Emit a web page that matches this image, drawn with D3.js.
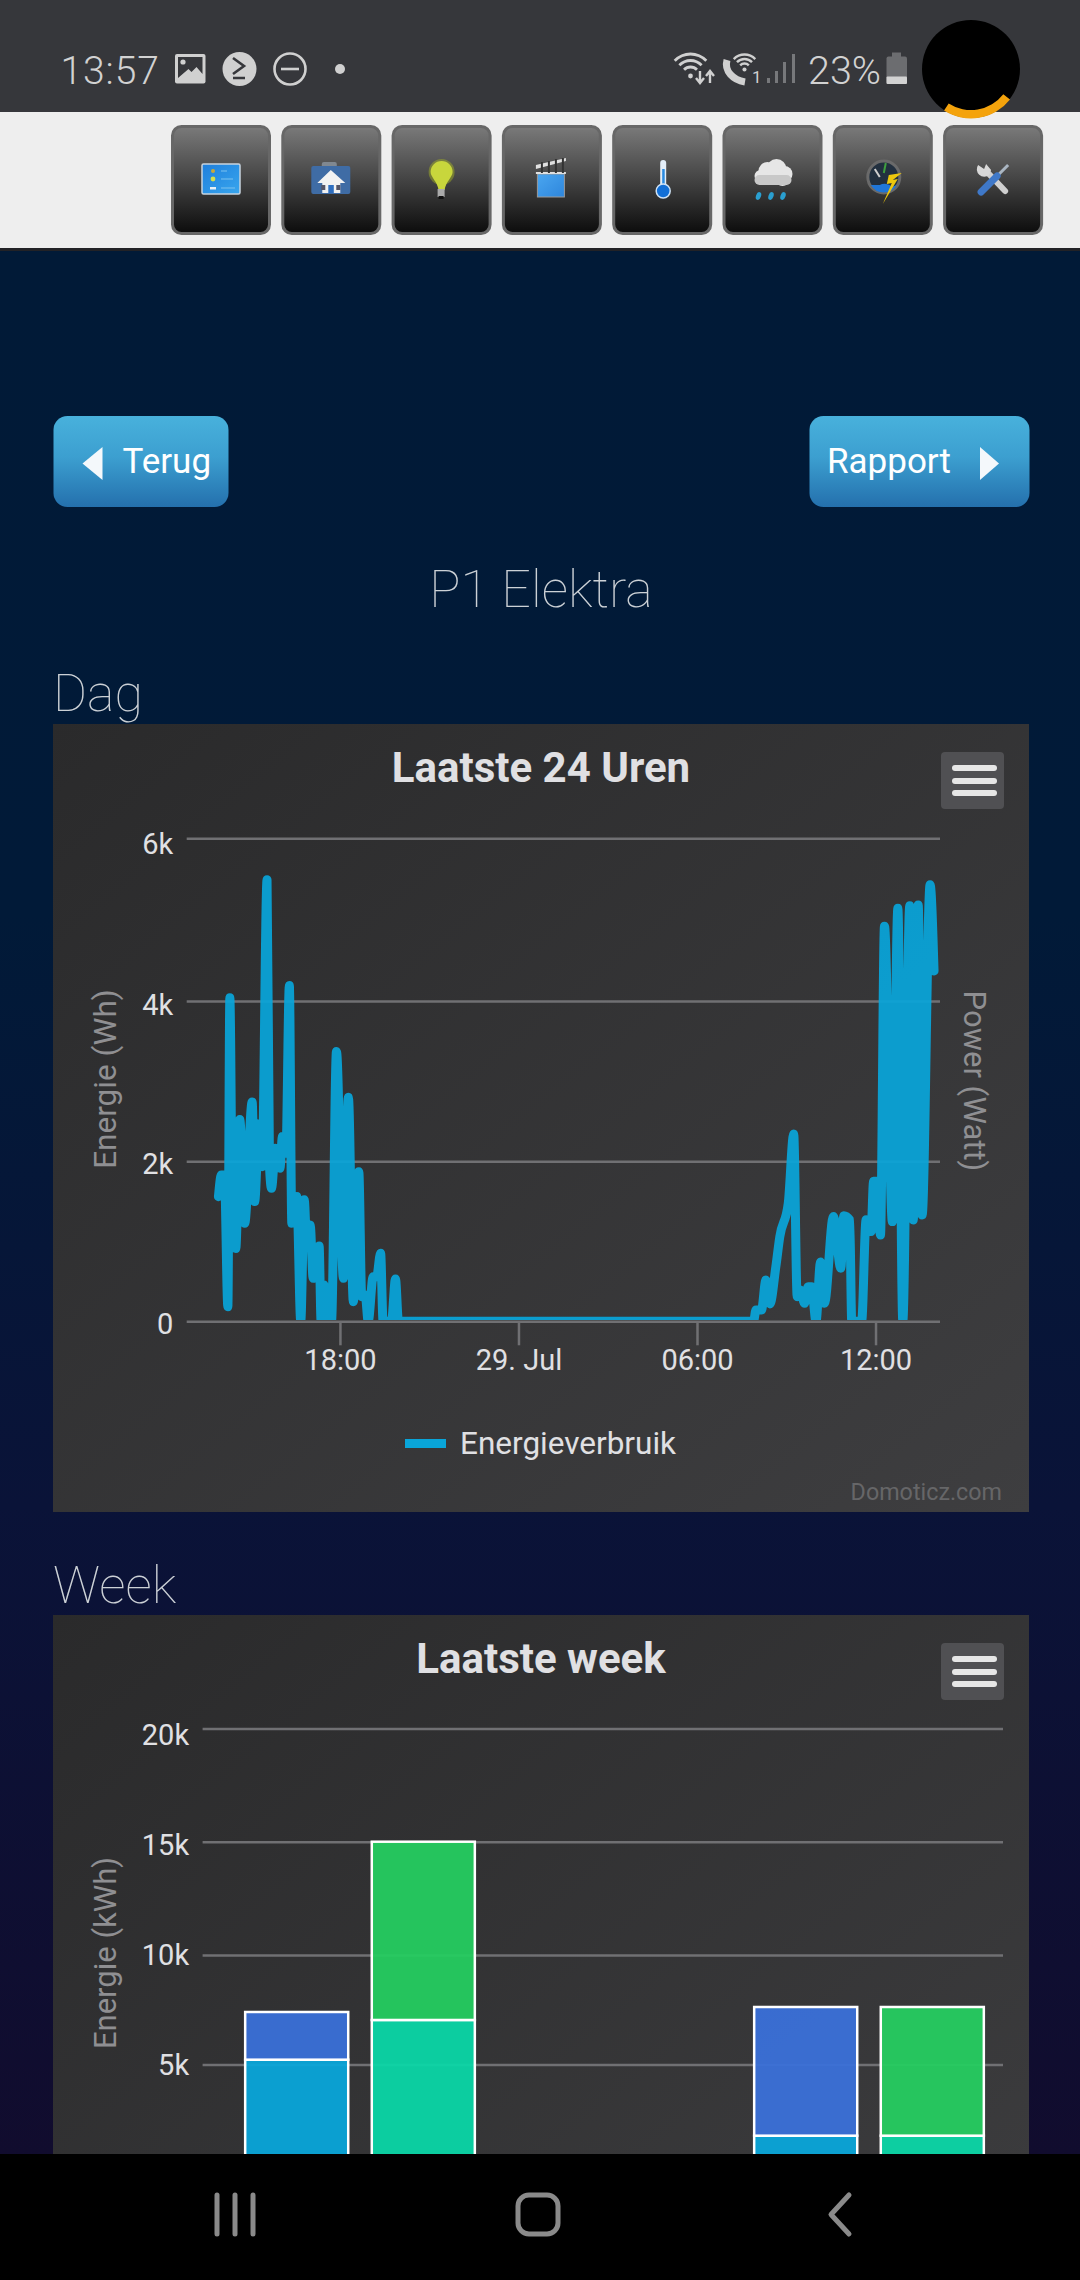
<!DOCTYPE html>
<html>
<head>
<meta charset="utf-8">
<script src="https://cdn.jsdelivr.net/npm/d3@7/dist/d3.min.js"></script>
<style>
  html, body { margin: 0; padding: 0; background: #000; }
  svg { display: block; }
  text { font-family: Roboto, sans-serif; }
</style>
</head>
<body>
<svg id="screen" width="1080" height="2280"></svg>
<script>
// Laatste 24 Uren (day hour:minute, Wh)
const dayTimes = [
  "28 13:55", "28 14:01", "28 14:07", "28 14:14", "28 14:18", "28 14:24", "28 14:30", "28 14:38",
  "28 14:48", "28 15:03", "28 15:08", "28 15:17", "28 15:23", "28 15:33", "28 15:38", "28 15:42",
  "28 15:50", "28 15:59", "28 16:04", "28 16:11", "28 16:18", "28 16:23", "28 16:33", "28 16:41",
  "28 16:48", "28 16:53", "28 17:00", "28 17:06", "28 17:18", "28 17:22", "28 17:28", "28 17:33",
  "28 17:43", "28 17:53", "28 18:07", "28 18:17", "28 18:27", "28 18:38", "28 18:44", "28 18:51",
  "28 18:57", "28 19:07", "28 19:14", "28 19:22", "28 19:27", "28 19:44", "28 19:52", "28 19:58",
  "29 07:54", "29 07:59", "29 08:10", "29 08:19", "29 08:27", "29 08:39", "29 08:47", "29 09:04",
  "29 09:15", "29 09:22", "29 09:28", "29 09:37", "29 09:44", "29 09:51", "29 10:00", "29 10:09",
  "29 10:17", "29 10:35", "29 10:50", "29 10:56", "29 11:08", "29 11:12", "29 11:32", "29 11:41",
  "29 11:51", "29 11:56", "29 12:02", "29 12:10", "29 12:18", "29 12:34", "29 12:45", "29 12:55",
  "29 13:09", "29 13:16", "29 13:26", "29 13:34", "29 13:50", "29 13:58"
];
const dayWatts = [
  1558, 1830, 1830, 183, 4040, 930, 910, 2520,
  1225, 2740, 1496, 2470, 1933, 5490, 1933, 1662,
  2162, 1912, 2308, 2100, 4190, 1225, 1560, 0,
  1520, 975, 1204, 537, 940, 0, 454, 0,
  0, 3370, 537, 2800, 245, 1870, 308, 329,
  0, 558, 558, 850, 0, 0, 530, 0,
  0, 142, 142, 517, 217, 683, 1058, 1475,
  2340, 308, 392, 225, 433, 433, 0, 740,
  225, 1310, 662, 1320, 1267, 0, 0, 1270,
  1121, 1750, 1750, 1079, 4920, 1246, 5140, 0,
  5170, 1267, 5180, 1329, 5430, 4370
];
const dayYTicks = [0, 2000, 4000, 6000];
const dayXTicks = ["28 18:00", "29 00:00", "29 06:00", "29 12:00"];
const dayXLabels = ["18:00", "29. Jul", "06:00", "12:00"];
const dayDomain = ["28 12:51", "29 14:10"];

// Laatste week, the two stacks per day (kWh)
const weekDays = ["d1", "d2", "d3"];
const weekStacks = ["verbruik", "levering"];
const usageLow = [5224, 0, 1829];
const usageHigh = [2176, 0, 5799];
const returnLow = [7035, 0, 1829];
const returnHigh = [7965, 0, 5799];
const weekYTicks = [0, 5000, 10000, 15000, 20000];

const svg = d3.select("#screen");
const defs = svg.append("defs");

function gradient(id, stops, x2, y2) {
  const g = defs.append("linearGradient").attr("id", id)
    .attr("x1", 0).attr("y1", 0).attr("x2", x2).attr("y2", y2);
  stops.forEach(s => g.append("stop").attr("offset", s[0]).attr("stop-color", s[1]));
}
gradient("pageBg", [[0, "#011a37"], [0.35, "#011a38"], [0.66, "#0a1338"], [1, "#110c2e"]], 0, 1);
gradient("panelBg", [[0, "#2a2a2b"], [1, "#3e3e40"]], 1, 1);
gradient("blueBtn", [[0, "#48b1dc"], [0.45, "#3c9fd0"], [1, "#2470ad"]], 0, 1);
gradient("toolBtn", [[0, "#7a7a7a"], [1, "#0c0c0c"]], 0, 1);
gradient("screenIcon", [[0, "#1f7fdc"], [1, "#38a6ee"]], 1, 1);
gradient("clapIcon", [[0, "#4aa6f0"], [1, "#2e86dc"]], 1, 1);

// page background
svg.append("rect").attr("width", 1080).attr("height", 2280).attr("fill", "#000");
svg.append("rect").attr("y", 248).attr("width", 1080).attr("height", 1906).attr("fill", "url(#pageBg)");

// --- status bar ---
const status = svg.append("g");
status.append("rect").attr("width", 1080).attr("height", 112).attr("fill", "#36373b");
status.append("text").attr("x", 60.5).attr("y", 83.5).attr("font-size", 39).attr("font-weight", 300)
  .attr("letter-spacing", 0.9).attr("fill", "#d2d2d2").text("13:57");
status.append("text").attr("x", 808).attr("y", 84).attr("font-size", 39.5).attr("font-weight", 300)
  .attr("fill", "#d2d2d2").text("23%");

// picture icon
status.append("rect").attr("x", 175).attr("y", 54).attr("width", 30.5).attr("height", 29.5).attr("rx", 2).attr("fill", "#d0d0d0");
status.append("path").attr("d", "M178 57h24.5v17l-6-7-5 5-3-3-10.500 9z").attr("fill", "#36373b");
status.append("circle").attr("cx", 183).attr("cy", 62).attr("r", 2.6).attr("fill", "#d0d0d0");
// S circle
status.append("circle").attr("cx", 239.5).attr("cy", 69).attr("r", 17).attr("fill", "#d0d0d0");
status.append("path").attr("d", "M233 58l11 8-11 8M233 78h12").attr("fill", "none").attr("stroke", "#36373b").attr("stroke-width", 2.6);
// do not disturb
status.append("circle").attr("cx", 290).attr("cy", 69).attr("r", 15.5).attr("fill", "none").attr("stroke", "#d0d0d0").attr("stroke-width", 2.6);
status.append("line").attr("x1", 281).attr("x2", 299).attr("y1", 69).attr("y2", 69).attr("stroke", "#d0d0d0").attr("stroke-width", 2.6);
status.append("circle").attr("cx", 340).attr("cy", 69).attr("r", 5).attr("fill", "#d0d0d0");

// wifi arcs, drawn as thin arc bands
function wifi(cx, cy, radii, w) {
  radii.forEach(r => {
    status.append("path").attr("transform", `translate(${cx},${cy})`)
      .attr("d", d3.arc()({ innerRadius: r - w / 2, outerRadius: r + w / 2, startAngle: -0.8, endAngle: 0.8 }))
      .attr("fill", "#d0d0d0");
  });
  status.append("circle").attr("cx", cx).attr("cy", cy).attr("r", w * 0.85).attr("fill", "#d0d0d0");
}
wifi(690.5, 76, [9, 15.500, 22], 2.8);
status.append("path").attr("d", "M700 71v11M696 78l4 5 4-5M710 83v-11M706 76l4-5 4 5")
  .attr("fill", "none").attr("stroke", "#d0d0d0").attr("stroke-width", 2.4);
wifi(744.5, 69.5, [6, 10.500, 15], 2.4);
status.append("path").attr("d", "M727 60c-3 11 6 20 18 22").attr("fill", "none").attr("stroke", "#d0d0d0").attr("stroke-width", 7);
status.append("text").attr("x", 752).attr("y", 83).attr("font-size", 17).attr("fill", "#d0d0d0").text("1");
// signal bars
[[767, 78], [775, 71], [783, 62], [792, 54]].forEach(b => {
  status.append("rect").attr("x", b[0]).attr("y", b[1]).attr("width", 3).attr("height", 83 - b[1]).attr("fill", "#77787b");
});
// battery
status.append("rect").attr("x", 892).attr("y", 52.500).attr("width", 9).attr("height", 6).attr("fill", "#6c6d70");
status.append("rect").attr("x", 886.500).attr("y", 56.500).attr("width", 20.500).attr("height", 27.500).attr("rx", 2).attr("fill", "#6c6d70");
status.append("rect").attr("x", 886.500).attr("y", 76.500).attr("width", 20.500).attr("height", 7.500).attr("rx", 1).attr("fill", "#d2d2d2");

// --- toolbar ---
svg.append("rect").attr("y", 112).attr("width", 1080).attr("height", 136).attr("fill", "#eeeeee");
svg.append("rect").attr("y", 248).attr("width", 1080).attr("height", 3).attr("fill", "#222226");

const toolButtons = svg.selectAll("g.tool").data(d3.range(8)).join("g")
  .attr("class", "tool").attr("transform", i => `translate(${171 + 110.3 * i},125)`);
toolButtons.append("rect").attr("x", 1.5).attr("y", 1.5).attr("width", 97).attr("height", 107).attr("rx", 9)
  .attr("fill", "url(#toolBtn)").attr("stroke", "#676767").attr("stroke-width", 3);

// icons, local coordinates inside each button
const icon = i => d3.select(toolButtons.nodes()[i]);
// 1 dashboard
icon(0).append("rect").attr("x", 31).attr("y", 39).attr("width", 38).attr("height", 30).attr("rx", 1.5)
  .attr("fill", "url(#screenIcon)").attr("stroke", "#c7d3de").attr("stroke-width", 1.5);
icon(0).append("circle").attr("cx", 42).attr("cy", 46).attr("r", 2).attr("fill", "#c8a83a");
icon(0).append("circle").attr("cx", 42).attr("cy", 54).attr("r", 2.400).attr("fill", "#d6e04a");
icon(0).append("rect").attr("x", 39).attr("y", 62).attr("width", 6).attr("height", 2.5).attr("fill", "#e8f0f5");
icon(0).append("path").attr("d", "M50 63h14M50 54h12M50 46h6").attr("stroke", "#7cc2ee").attr("stroke-width", 1).attr("fill", "none");
// 2 folder with house
icon(1).append("rect").attr("x", 40.500).attr("y", 37).attr("width", 15).attr("height", 8).attr("rx", 2).attr("fill", "#808890");
icon(1).append("rect").attr("x", 30).attr("y", 41).attr("width", 39).attr("height", 28).attr("rx", 2).attr("fill", "#3f6ca5");
icon(1).append("path").attr("d", "M49.500 45L36 58h5v10h18V58h5z").attr("fill", "#f2f2f2");
icon(1).append("rect").attr("x", 47).attr("y", 60).attr("width", 5.500).attr("height", 8).attr("fill", "#2f6fc0");
icon(1).append("rect").attr("x", 40).attr("y", 60).attr("width", 4).attr("height", 5).attr("fill", "#556");
icon(1).append("rect").attr("x", 55).attr("y", 60).attr("width", 4).attr("height", 5).attr("fill", "#556");
// 3 bulb
icon(2).append("circle").attr("cx", 50).attr("cy", 47).attr("r", 13).attr("fill", "#a9b822").attr("opacity", 0.45);
icon(2).append("path").attr("d", "M39 47a11 11 0 0 1 22 0c0 5-7 10-8 18h-6c-1-8-8-13-8-18z").attr("fill", "#c8d63c");
icon(2).append("rect").attr("x", 46).attr("y", 64).attr("width", 7).attr("height", 8).attr("fill", "#aaaaaa");
icon(2).append("rect").attr("x", 47).attr("y", 71).attr("width", 5).attr("height", 3).attr("fill", "#111");
// 4 clapper
icon(3).append("rect").attr("x", 35.500).attr("y", 49).attr("width", 27).attr("height", 23).attr("fill", "url(#clapIcon)").attr("stroke", "#9a9a9a");
icon(3).append("path").attr("d", "M34 40l30-7v3l-30 8zM34 47h30v2H34z").attr("fill", "#e0e0e0");
icon(3).append("path").attr("d", "M40 37v11M47 36v12M54 34v14M61 33v15").attr("stroke", "#333").attr("stroke-width", 2).attr("fill", "none");
// 5 thermometer
icon(4).append("rect").attr("x", 48).attr("y", 35).attr("width", 6).attr("height", 27).attr("rx", 3).attr("fill", "#e4eef8");
icon(4).append("rect").attr("x", 50).attr("y", 44).attr("width", 2.500).attr("height", 18).attr("fill", "#2a8be0");
icon(4).append("circle").attr("cx", 51).attr("cy", 66).attr("r", 7).attr("fill", "#126fd6").attr("stroke", "#cfe2f4").attr("stroke-width", 1.5);
// 6 cloud with rain
[[38, 51, 6], [45, 46, 9], [54, 44, 10], [62, 49, 8], [40, 54, 6], [60, 54, 7]].forEach(c => {
  icon(5).append("circle").attr("cx", c[0]).attr("cy", c[1]).attr("r", c[2]).attr("fill", "#e6e6e6");
});
icon(5).append("rect").attr("x", 32).attr("y", 50).attr("width", 37).attr("height", 10).attr("rx", 5).attr("fill", "#c8c8c8");
[36, 48.500, 60.500].forEach(x => {
  icon(5).append("ellipse").attr("cx", x).attr("cy", 71).attr("rx", 2.500).attr("ry", 4)
    .attr("transform", `rotate(20 ${x} 71)`).attr("fill", "#2a9fd0");
});
// 7 gauge with lightning
icon(6).append("circle").attr("cx", 51).attr("cy", 52).attr("r", 16).attr("fill", "#22303f").attr("stroke", "#6a6a6a").attr("stroke-width", 3);
icon(6).append("path").attr("d", "M38 60a15 15 0 0 0 26 0l-5 2a8 6 0 0 0-12-2z").attr("fill", "#1f76d8");
icon(6).append("path").attr("d", "M51 48l2-10").attr("stroke", "#3fa03f").attr("stroke-width", 2);
icon(6).append("path").attr("d", "M42 44l5 8").attr("stroke", "#cfcfcf").attr("stroke-width", 2);
icon(6).append("path").attr("d", "M69 48l-13 2-2 9 5-1-9 21 15-25-5 1z").attr("fill", "#ecc70e");
// 8 tools
icon(7).append("path").attr("d", "M44 47l18 19").attr("stroke", "#cfcfcf").attr("stroke-width", 6).attr("stroke-linecap", "round");
icon(7).append("path").attr("d", "M35 40a7.500 7.500 0 0 0 11 10l2-5-5-6-2 5z").attr("fill", "#d8d8d8");
icon(7).append("path").attr("d", "M65 40L52 53").attr("stroke", "#aab6c2").attr("stroke-width", 3);
icon(7).append("path").attr("d", "M54 51L38 67").attr("stroke", "#3f78c8").attr("stroke-width", 7).attr("stroke-linecap", "round");

// --- navigation buttons ---
function navButton(x, w, label, textX, triangle) {
  svg.append("rect").attr("x", x).attr("y", 416).attr("width", w).attr("height", 91).attr("rx", 14).attr("fill", "url(#blueBtn)");
  svg.append("text").attr("x", textX).attr("y", 472.500).attr("font-size", 35).attr("fill", "#fff").text(label);
  svg.append("path").attr("d", triangle).attr("fill", "#f4f8fb");
}
navButton(53.500, 175, "Terug", 122.500, "M102.500 447v33l-20-16.500z");
navButton(809.500, 220, "Rapport", 827, "M980 447v33l19-16.500z");

svg.append("text").attr("x", 541).attr("y", 606.500).attr("text-anchor", "middle").attr("font-size", 52)
  .attr("font-weight", 100).attr("fill", "#ccd1d6").text("P1 Elektra");
svg.append("text").attr("x", 53).attr("y", 710.500).attr("font-size", 52)
  .attr("font-weight", 100).attr("fill", "#ccd1d6").text("Dag");
svg.append("text").attr("x", 53).attr("y", 1603).attr("font-size", 52)
  .attr("font-weight", 100).attr("fill", "#ccd1d6").text("Week");

// panel, title and hamburger menu are the same on both charts
function chartPanel(top, height, title) {
  svg.append("rect").attr("x", 53).attr("y", top).attr("width", 976).attr("height", height).attr("fill", "url(#panelBg)");
  svg.append("text").attr("x", 541).attr("y", top + 57.5).attr("text-anchor", "middle").attr("font-size", 42)
    .attr("font-weight", 700).attr("fill", "#e0e0e3").text(title);
  svg.append("rect").attr("x", 941).attr("y", top + 28).attr("width", 63).attr("height", 57).attr("rx", 4).attr("fill", "#505053");
  [44, 57, 69].forEach(dy => {
    svg.append("line").attr("x1", 955).attr("x2", 994).attr("y1", top + dy).attr("y2", top + dy)
      .attr("stroke", "#e6e6e6").attr("stroke-width", 6).attr("stroke-linecap", "round");
  });
}

function styleAxis(g) {
  g.select(".domain").remove();
  g.selectAll("line").attr("stroke", "#707073").attr("stroke-width", 2.5);
  g.selectAll("text").attr("fill", "#e0e0e3").attr("font-size", 29).style("font-family", "Roboto, sans-serif");
}

const yLabel = v => v === 0 ? "0" : (v / 1000) + "k";

// --- chart 1: Laatste 24 Uren ---
chartPanel(724, 788, "Laatste 24 Uren");

const parseTime = s => d3.timeParse("%Y-%m-%d %H:%M")("2020-07-" + s);
const daySeries = dayTimes.map((t, i) => ({ time: parseTime(t), value: dayWatts[i] }));

const dayX = d3.scaleTime().domain(dayDomain.map(parseTime)).range([186.7, 940]);
// the gridlines in the picture are not quite evenly spaced
const dayY = d3.scaleLinear().domain(dayYTicks).range([1321.3, 1161.3, 1001, 838.3]);

// tick labels sit a little below their gridlines, more so towards the top
const dayLabelShift = [1.4, 2, 3, 4.4];
svg.append("g").attr("transform", "translate(186.7,0)")
  .call(d3.axisLeft(dayY).tickValues(dayYTicks).tickSize(-(940 - 186.7)).tickPadding(13.5).tickFormat(yLabel))
  .call(styleAxis)
  .selectAll("text").attr("dy", (d, i) => dayLabelShift[i] + 10.3);

svg.append("g").attr("transform", "translate(0,1321.3)")
  .call(d3.axisBottom(dayX).tickValues(dayXTicks.map(parseTime)).tickSize(24).tickPadding(-1)
    .tickFormat((d, i) => dayXLabels[i]))
  .call(styleAxis)
  .selectAll("text").attr("dy", "0.9em");

defs.append("clipPath").attr("id", "dayClip").append("rect")
  .attr("x", 186.7).attr("y", 800).attr("width", 753.3).attr("height", 520);

const dayLine = d3.line().x(d => dayX(d.time)).y(d => dayY(d.value)).curve(d3.curveMonotoneX);
svg.append("path").datum(daySeries)
  .attr("clip-path", "url(#dayClip)")
  .attr("d", dayLine)
  .attr("fill", "none").attr("stroke", "#09a5d9").attr("stroke-opacity", 0.93)
  .attr("stroke-width", 9).attr("stroke-linejoin", "round").attr("stroke-linecap", "round");

// axis titles
svg.append("text").attr("transform", "translate(105,1079) rotate(-90)").attr("text-anchor", "middle")
  .attr("dy", "0.35em").attr("font-size", 31.5).attr("fill", "#8f8f92").text("Energie (Wh)");
svg.append("text").attr("transform", "translate(975,1081) rotate(90)").attr("text-anchor", "middle")
  .attr("dy", "0.35em").attr("font-size", 31).attr("fill", "#8f8f92").text("Power (Watt)");

// legend
svg.append("rect").attr("x", 405).attr("y", 1439).attr("width", 41).attr("height", 9).attr("fill", "#09a5d9");
svg.append("text").attr("x", 460).attr("y", 1453.500).attr("font-size", 31.5).attr("fill", "#e0e0e3").text("Energieverbruik");
svg.append("text").attr("x", 1002).attr("y", 1499.500).attr("text-anchor", "end").attr("font-size", 23.3)
  .attr("fill", "#666668").text("Domoticz.com");

// --- chart 2: Laatste week ---
// the panel carries on behind the phone's navigation bar
chartPanel(1615, 788, "Laatste week");

const weekY = d3.scaleLinear().domain(weekYTicks).range([2176.7, 2064.6, 1955, 1841.7, 1728.4]);
const weekX = d3.scaleBand().domain(weekDays).range([232.75, 996.25]);
const stackX = d3.scaleBand().domain(weekStacks).range([-126.6, 126.6]).paddingInner(0.186).paddingOuter(0.093);

const weekLabelShift = [0, 0, -0.6, 2.5, 6.2];
svg.append("g").attr("transform", "translate(202.6,0)")
  .call(d3.axisLeft(weekY).tickValues(weekYTicks).tickSize(-(1003 - 202.6)).tickPadding(13.5).tickFormat(yLabel))
  .call(styleAxis)
  .selectAll("text").attr("dy", (d, i) => weekLabelShift[i] + 10.3);

svg.append("text").attr("transform", "translate(105,1953) rotate(-90)").attr("text-anchor", "middle")
  .attr("dy", "0.35em").attr("font-size", 31).attr("fill", "#8f8f92").text("Energie (kWh)");

// one series per colour, stacked on the day's lower value
const weekSeries = [
  { stack: "verbruik", base: null, values: usageLow, color: "#09a5d9" },
  { stack: "verbruik", base: usageLow, values: usageHigh, color: "#3a70d8" },
  { stack: "levering", base: null, values: returnLow, color: "#0bd6a6" },
  { stack: "levering", base: returnLow, values: returnHigh, color: "#25cc60" }
];
weekSeries.forEach(s => {
  const days = weekDays.map((d, i) => ({
    day: d,
    from: s.base ? s.base[i] : 0,
    to: (s.base ? s.base[i] : 0) + s.values[i]
  })).filter(d => d.to > d.from);
  svg.append("g").selectAll("rect").data(days).join("rect")
    .attr("x", d => weekX(d.day) + weekX.bandwidth() / 2 + stackX(s.stack))
    .attr("y", d => weekY(d.to))
    .attr("width", stackX.bandwidth())
    .attr("height", d => weekY(d.from) - weekY(d.to))
    .attr("fill", s.color).attr("fill-opacity", 0.95)
    .attr("stroke", "#ffffff").attr("stroke-width", 2.5);
});

// --- phone navigation bar ---
svg.append("rect").attr("y", 2154).attr("width", 1080).attr("height", 126).attr("fill", "#000");
const navGrey = "#8a8a8a";
[217, 235, 253].forEach(x => {
  svg.append("line").attr("x1", x).attr("x2", x).attr("y1", 2195).attr("y2", 2234)
    .attr("stroke", navGrey).attr("stroke-width", 5).attr("stroke-linecap", "round");
});
svg.append("rect").attr("x", 518).attr("y", 2195).attr("width", 40).attr("height", 39).attr("rx", 11)
  .attr("fill", "none").attr("stroke", navGrey).attr("stroke-width", 5);
svg.append("path").attr("d", "M849 2195l-18 19.500 18 19.500").attr("fill", "none")
  .attr("stroke", navGrey).attr("stroke-width", 5).attr("stroke-linecap", "round").attr("stroke-linejoin", "round");

// camera cut-out with the orange progress ring
svg.append("circle").attr("cx", 971).attr("cy", 69).attr("r", 49).attr("fill", "#000");
svg.append("path").attr("transform", "translate(971,69)")
  .attr("d", d3.arc()({ innerRadius: 41, outerRadius: 49.500, startAngle: 128 * Math.PI / 180, endAngle: 213 * Math.PI / 180 }))
  .attr("fill", "#f4a30c");
</script>
</body>
</html>
